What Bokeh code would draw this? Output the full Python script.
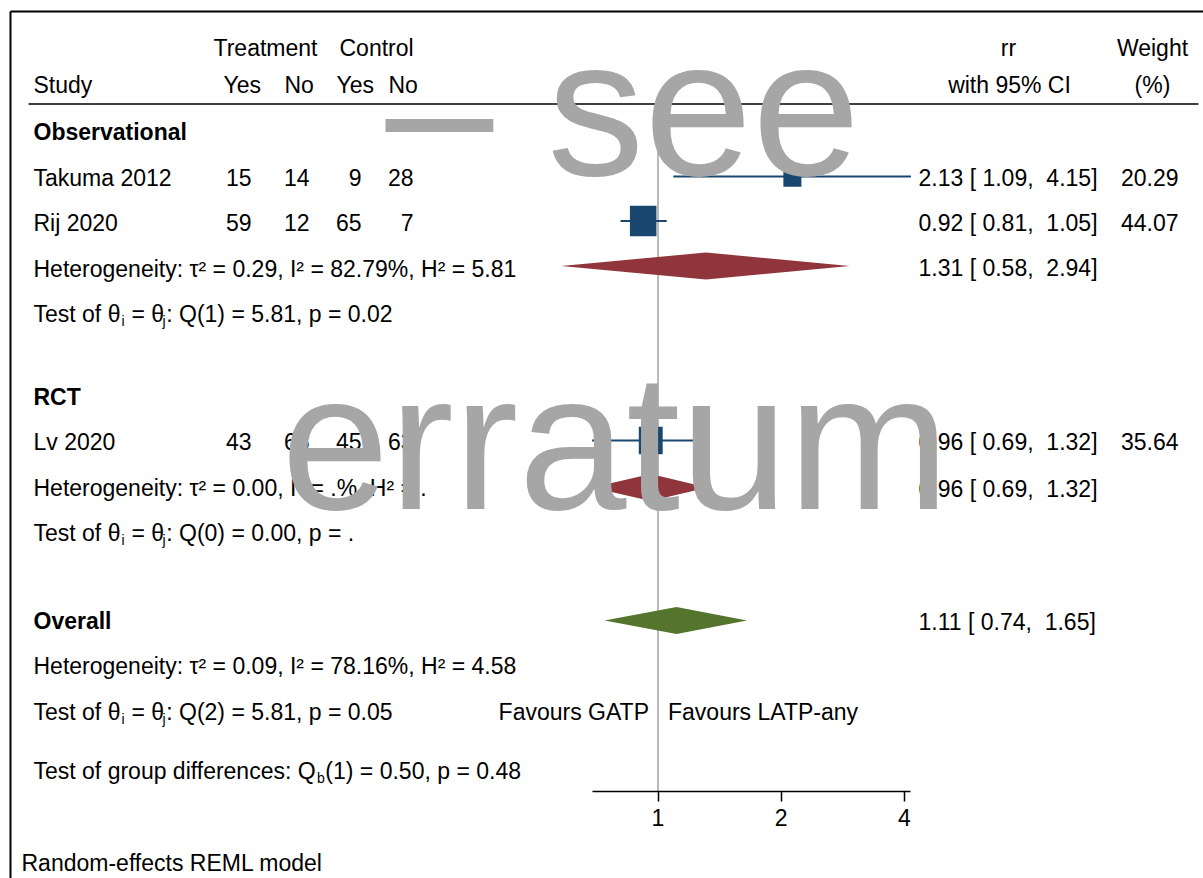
import math
from bokeh.plotting import figure
from bokeh.models import Range1d, LogScale, LogAxis, FixedTicker, BasicTickFormatter
from bokeh.embed import file_html
from bokeh.resources import INLINE
from bokeh.core.properties import value

# ---------------- data ----------------
studies = ["Takuma 2012", "Rij 2020", "Lv 2020"]
study_group = ["Observational", "Observational", "RCT"]
treat_yes = [15, 59, 43]
treat_no = [14, 12, 65]
ctrl_yes = [9, 65, 45]
ctrl_no = [28, 7, 63]
rr = [2.13, 0.92, 0.96]
rr_lo = [1.09, 0.81, 0.69]
rr_hi = [4.15, 1.05, 1.32]
weight = [20.29, 44.07, 35.64]

pooled_names = ["Observational", "RCT", "Overall"]
pooled_rr = [1.31, 0.96, 1.11]
pooled_lo = [0.58, 0.69, 0.74]
pooled_hi = [2.94, 1.32, 1.65]

het_tau2 = ["0.29", "0.00", "0.09"]
het_i2 = ["82.79%", ".%", "78.16%"]
het_h2 = ["5.81", ".", "4.58"]
q_df = ["1", "0", "2"]
q_stat = ["5.81", "0.00", "5.81"]
q_p = ["0.02", ".", "0.05"]
qb_df, qb_stat, qb_p = "1", "0.50", "0.48"

x_ticks = [1, 2, 4]
favours_left = "Favours GATP"
favours_right = "Favours LATP-any"
model_note = "Random-effects REML model"
watermark = ["\u2013 see", "erratum"]

# ---------------- layout / style ----------------
W, H = 1203, 878
FONT = "Liberation Sans"
FS = 23
NAVY = "#1a476f"
MAROON = "#90353b"
GREEN = "#55752f"
WM = "#a6a6a6"
X_ONE = 657.5          # px of rr = 1
OCT = 123.2            # px per doubling

rows_study = [177, 222, 441]
rows_mark = [176, 220.5, 440]
rows_group = [131, 396, 620]
rows_het = [268, 487, 665]
rows_test = [313, 532, 711]
rows_pool = [265.5, 487, 620]
row_grp = 770
row_axis = 791
row_note = 862

log_lo = 2 ** ((0 - X_ONE) / OCT)
log_hi = 2 ** ((W - X_ONE) / OCT)

p = figure(width=W, height=H, x_range=Range1d(0, W), y_range=Range1d(H, 0),
           output_backend="svg", toolbar_location=None,
           x_axis_location=None, y_axis_location=None, min_border=0,
           outline_line_color=None, background_fill_color="white")
p.extra_x_ranges = {"rr": Range1d(log_lo, log_hi)}
p.extra_x_scales = {"rr": LogScale()}
p.grid.visible = False

# Arial / Liberation Sans advance widths (per 1000 em)
AW = {' ': 278, '\u00a0': 278, 'T': 611, 'e': 556, 's': 500, 't': 278, 'o': 556, 'f': 278,
      'θ': 556, '=': 584, ':': 278, 'Q': 778, 'g': 556, 'r': 333, 'u': 556, 'p': 556,
      'd': 556, 'i': 222, 'n': 556, 'c': 500, 'j': 222, 'b': 556}


def tw(s, size):
    return sum(AW.get(ch, 556) for ch in s) * size / 1000.0


def put(x, y, s, align="left", size=FS, bold=False, color="black"):
    s = s.replace("  ", " \u00a0")
    if s.startswith(" "):
        s = "\u00a0" + s[1:]
    p.text(x=[x], y=[y], text=[s], text_align=align, text_baseline="middle",
           text_font=value(FONT), text_font_size=f"{size}px",
           text_font_style="bold" if bold else "normal", text_color=color)


def put_sub(x, y, parts):
    cx = x
    for s, sub in parts:
        if sub:
            cx -= 1.5
            put(cx, y + 7, s, size=14)
            cx += tw(s, 14) + 0.5
        else:
            put(cx, y, s)
            cx += tw(s, FS)


# frame border and header rule
p.segment(x0=[10, 10], y0=[11, 11], x1=[10, W + 10], y1=[H + 10, 11], line_color="black", line_width=2)
p.segment(x0=[28], y0=[103.5], x1=[1198], y1=[103.5], line_color="black", line_width=1.5)

# headers
put(213, 47, "Treatment")
put(339, 47, "Control")
put(33, 84, "Study")
put(223, 84, "Yes")
put(284, 84, "No")
put(336, 84, "Yes")
put(388, 84, "No")
put(1008, 47, "rr", align="center")
put(1009, 84, "with 95% CI", align="center")
put(1152, 47, "Weight", align="center")
put(1152, 84, "(%)", align="center")


def ci_text(e, l, h):
    return f"{e:.2f} [{l:5.2f}, {h:5.2f}]"


# group labels & study rows
for gi, g in enumerate(pooled_names):
    put(33, rows_group[gi], g, bold=True)

for i, s in enumerate(studies):
    y = rows_study[i]
    put(33, y, s)
    put(251, y, str(treat_yes[i]), align="right")
    put(309, y, str(treat_no[i]), align="right")
    put(361, y, str(ctrl_yes[i]), align="right")
    put(413, y, str(ctrl_no[i]), align="right")
    put(918, y, ci_text(rr[i], rr_lo[i], rr_hi[i]))
    put(1178, y, f"{weight[i]:.2f}", align="right")

for gi in range(3):
    put(33, rows_het[gi], f"Heterogeneity: τ² = {het_tau2[gi]}, I² = {het_i2[gi]}, H² = {het_h2[gi]}")
    put_sub(33, rows_test[gi], [("Test of θ", False), ("i", True), (" = θ", False), ("j", True),
                                 (f": Q({q_df[gi]}) = {q_stat[gi]}, p = {q_p[gi]}", False)])
    put(918, rows_pool[gi] + 1.5, ci_text(pooled_rr[gi], pooled_lo[gi], pooled_hi[gi]))

put_sub(33, row_grp, [("Test of group differences: Q", False), ("b", True),
                      (f"({qb_df}) = {qb_stat}, p = {qb_p}", False)])
put(X_ONE - 9, rows_test[2], favours_left, align="right")
put(X_ONE + 10, rows_test[2], favours_right)
put(21, row_note, model_note)

# no-effect line
p.segment(x0=[1], x1=[1], y0=[106], y1=[row_axis], x_range_name="rr",
          line_color="#8c8c8c", line_width=1.2)

# study CIs and squares (area ~ weight)
p.segment(x0=rr_lo, x1=rr_hi, y0=rows_mark, y1=rows_mark, x_range_name="rr",
          line_color=NAVY, line_width=2)
p.rect(x=rr, y=rows_mark, width=[4.0 * math.sqrt(w) for w in weight],
       height=[4.6 * math.sqrt(w) for w in weight], width_units="screen", height_units="screen",
       x_range_name="rr", fill_color=NAVY, line_color=None)

# pooled diamonds
HH = 13.5
p.patches(xs=[[l, e, h, e] for l, e, h in zip(pooled_lo, pooled_rr, pooled_hi)],
          ys=[[y, y - HH, y, y + HH] for y in rows_pool], x_range_name="rr",
          fill_color=[MAROON, MAROON, GREEN], line_color=None)

# axis
ax = LogAxis(x_range_name="rr", ticker=FixedTicker(ticks=x_ticks, minor_ticks=[]),
             formatter=BasicTickFormatter(), bounds=(min(rr_lo), max(rr_hi)),
             fixed_location=row_axis)
ax.major_label_overrides = {t: str(t) for t in x_ticks}
ax.axis_line_color = "black"
ax.axis_line_width = 1.5
ax.major_tick_line_color = "black"
ax.major_tick_line_width = 1.5
ax.major_tick_in = 0
ax.major_tick_out = 10
ax.minor_tick_out = 0
ax.minor_tick_in = 0
ax.major_label_standoff = 7
ax.major_label_text_font = FONT
ax.major_label_text_font_size = f"{FS}px"
ax.major_label_text_color = "black"
p.add_layout(ax, "below")

# watermark
WFS = 194
MID = 0.3465 * WFS
put(385, 174 - MID, watermark[0], size=WFS, color=WM)
put(615, 508 - MID, watermark[1], align="center", size=WFS, color=WM)

open("out.html", "w").write(file_html(p, INLINE))
